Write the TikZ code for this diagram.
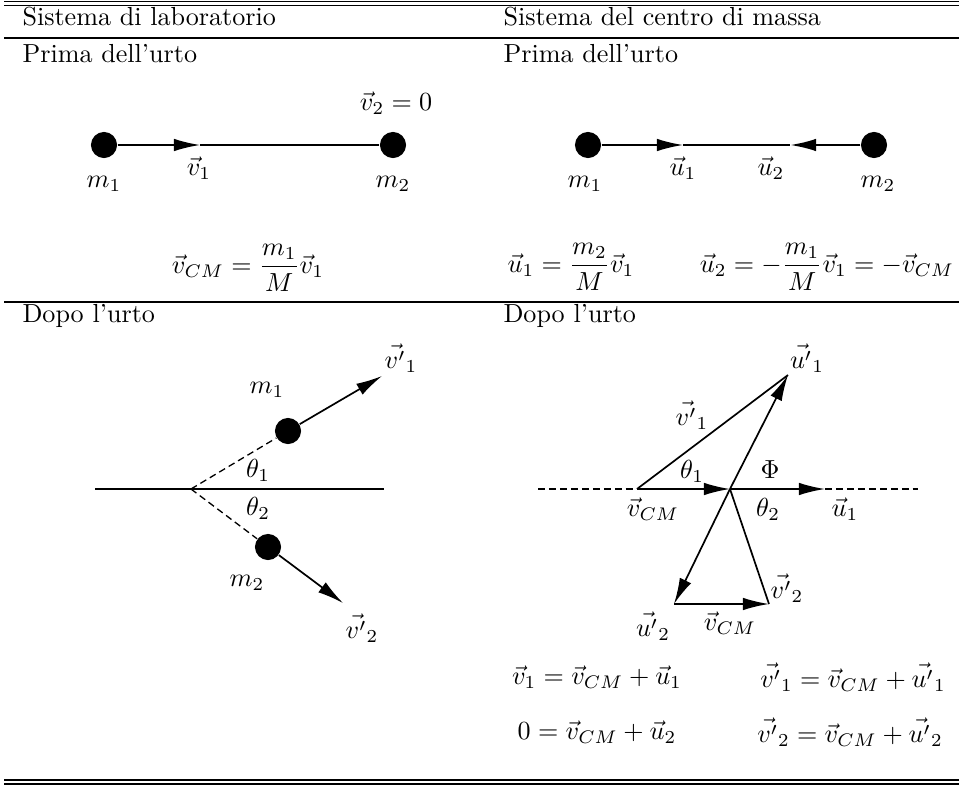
\documentclass[tikz,border=0pt]{standalone}
\usepackage{amsmath,amssymb}
\usetikzlibrary{shapes,arrows,arrows.meta,positioning}

\begin{document}
\begin{tikzpicture}[x=0.383pt,y=-0.383pt,
    ball/.style={circle,fill=black,inner sep=0pt,minimum size=10pt},
    vec/.style={-{Latex[length=10pt,width=4.8pt]},line width=0.65pt},
    seg/.style={line width=0.65pt},
    dsh/.style={dash pattern=on 2.6pt off 1.6pt,line width=0.5pt},
    title/.style={anchor=west,inner sep=0pt}]
  \useasboundingbox (0,0) rectangle (963,786);
  % table rules
  \draw[line width=0.5pt] (4,1.7) -- (959,1.7);
  \draw[line width=0.5pt] (4,5.3) -- (959,5.3);
  \draw[line width=0.65pt] (4,38) -- (959,38);
  \draw[line width=0.8pt] (4,302) -- (959,302);
  \draw[line width=0.5pt] (4,780) -- (959,780);
  \draw[line width=0.5pt] (4,784) -- (959,784);
  % headings
  \node[title] (labL) at (22,17) {Sistema di laboratorio};
  \node[title] (labR) at (503,17) {Sistema del centro di massa};
  \node[title] (preL) at (22,54) {Prima dell'urto};
  \node[title] (preR) at (503,54) {Prima dell'urto};
  \node[title] (postL) at (22,316) {Dopo l'urto};
  \node[title] (postR) at (503,316) {Dopo l'urto};

  % laboratorio, prima
  \node[ball] (m1a) at (104,145) {};
  \node[ball] (m2a) at (393,145) {};
  \coordinate (t1a) at (200,145);
  \draw[vec] (m1a) -- (t1a);
  \draw[seg] (t1a) -- (m2a);
  \node (v1a) at (199,168) {$\vec{v}_1$};
  \node (nm1a) at (104,184) {$m_1$};
  \node (nm2a) at (393,184) {$m_2$};
  \node (v2a) at (396,103) {$\vec{v}_2=0$};
  \node (vcma) at (248,268) {$\displaystyle\vec{v}_{CM}=\frac{m_1}{M}\vec{v}_1$};

  % centro di massa, prima
  \node[ball] (m1b) at (588,145) {};
  \node[ball] (m2b) at (874,145) {};
  \coordinate (t1b) at (683,145);
  \coordinate (t2b) at (790,145);
  \draw[vec] (m1b) -- (t1b);
  \draw[vec,line width=0.9pt] (m2b) -- (t2b);
  \draw[seg] (t1b) -- (t2b);
  \node (u1b) at (683,168) {$\vec{u}_1$};
  \node (u2b) at (771,168) {$\vec{u}_2$};
  \node (nm1b) at (585,184) {$m_1$};
  \node (nm2b) at (878,184) {$m_2$};
  \node (equ1) at (571,267) {$\displaystyle\vec{u}_1=\frac{m_2}{M}\vec{v}_1$};
  \node (equ2) at (827,267) {$\displaystyle\vec{u}_2=-\frac{m_1}{M}\vec{v}_1=-\vec{v}_{CM}$};

  % laboratorio, dopo
  \coordinate (hl) at (95,489);
  \coordinate (hr) at (384,489);
  \coordinate (O) at (191,489);
  \draw[seg] (hl) -- (hr);
  \node[ball] (m1c) at (288,431) {};
  \node[ball] (m2c) at (268,547) {};
  \coordinate (v1c) at (382,376);
  \coordinate (v2c) at (343,603);
  \draw[dsh] (O) -- (m1c);
  \draw[dsh] (O) -- (m2c);
  \draw[vec] (m1c) -- (v1c);
  \draw[vec] (m2c) -- (v2c);
  \node (pv1c) at (401,358) {$\vec{v'}_1$};
  \node (pv2c) at (362,628) {$\vec{v'}_2$};
  \node (nm1c) at (267,390) {$m_1$};
  \node (nm2c) at (247,583) {$m_2$};
  \node (th1c) at (258,470) {$\theta_1$};
  \node (th2c) at (258,508) {$\theta_2$};

  % centro di massa, dopo
  \coordinate (aL) at (538,489);
  \coordinate (aR) at (918,489);
  \coordinate (cmS) at (637,489);
  \coordinate (ctr) at (730,489);
  \coordinate (u1t) at (825,489);
  \coordinate (u1p) at (788,375);
  \coordinate (u2p) at (674,604);
  \coordinate (v2p) at (769,604);
  \draw[dsh] (aL) -- (cmS);
  \draw[dsh] (u1t) -- (aR);
  \draw[vec] (cmS) -- (ctr);
  \draw[vec] (ctr) -- (u1t);
  \draw[seg] (cmS) -- (u1p);
  \draw[vec] (ctr) -- (u1p);
  \draw[vec] (ctr) -- (u2p);
  \draw[seg] (ctr) -- (v2p);
  \draw[vec] (u2p) -- (v2p);
  \node (pu1d) at (807,358) {$\vec{u'}_1$};
  \node (pv1d) at (692,415) {$\vec{v'}_1$};
  \node (th1d) at (692,471) {$\theta_1$};
  \node (phid) at (770,470) {$\Phi$};
  \node (vcmd) at (653,509) {$\vec{v}_{CM}$};
  \node (th2d) at (768,509) {$\theta_2$};
  \node (u1d) at (845,509) {$\vec{u}_1$};
  \node (pv2d) at (787,588) {$\vec{v'}_2$};
  \node (pu2d) at (653,626) {$\vec{u'}_2$};
  \node (vcme) at (730,623) {$\vec{v}_{CM}$};

  % relazioni
  \node (eqa) at (597,677) {$\vec{v}_1=\vec{v}_{CM}+\vec{u}_1$};
  \node (eqb) at (853,677) {$\vec{v'}_1=\vec{v}_{CM}+\vec{u'}_1$};
  \node (eqc) at (597,732) {$0=\vec{v}_{CM}+\vec{u}_2$};
  \node (eqd) at (850,732) {$\vec{v'}_2=\vec{v}_{CM}+\vec{u'}_2$};
\end{tikzpicture}
\end{document}
